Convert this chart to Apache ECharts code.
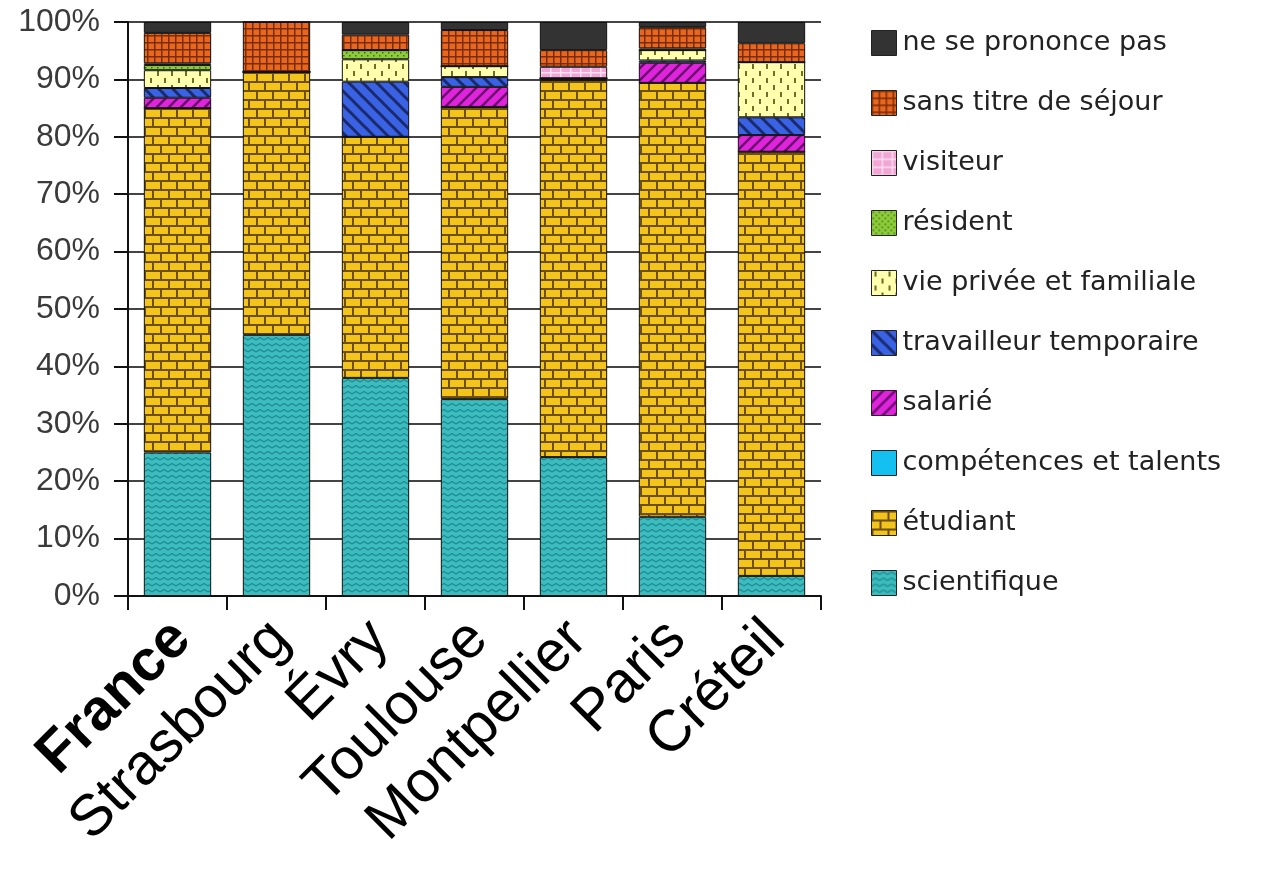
<!DOCTYPE html>
<html>
<head>
<meta charset="utf-8">
<script src="https://cdn.jsdelivr.net/npm/echarts@6/dist/echarts.min.js"></script>
<style>
html,body{margin:0;padding:0;background:#fff;}
#c{width:1282px;height:869px;}
</style>
</head>
<body>
<div id="c"></div>
<script>
const categories = ['France','Strasbourg','Évry','Toulouse','Montpellier','Paris','Créteil'];
const yTicks = [0,10,20,30,40,50,60,70,80,90,100];

const scientifique = [25, 45.5, 38, 34.3, 24.2, 13.8, 3.5];
const etudiant     = [60, 45.8, 42, 50.9, 65.7, 75.6, 73.9];
const competences  = [0, 0, 0, 0, 0.3, 0, 0];
const salarie      = [1.8, 0, 0, 3.5, 0, 3.5, 2.9];
const travailleur  = [1.7, 0, 9.6, 1.7, 0, 0.4, 3.1];
const viePrivee    = [3.1, 0, 3.9, 1.9, 0, 1.8, 9.6];
const resident     = [0.9, 0, 1.6, 0, 0, 0, 0];
const visiteur     = [0.3, 0, 0, 0, 2, 0.3, 0];
const sansTitre    = [5.3, 8.7, 2.7, 6.3, 2.9, 3.7, 3.3];
const nsp          = [1.9, 0, 2.2, 1.4, 4.9, 0.9, 3.7];

const seriesNames = ['scientifique','étudiant','compétences et talents','salarié','travailleur temporaire','vie privée et familiale','résident','visiteur','sans titre de séjour','ne se prononce pas'];
const seriesData = [scientifique, etudiant, competences, salarie, travailleur, viePrivee, resident, visiteur, sansTitre, nsp];

function pat(w, h, bg, draw) {
  const c = document.createElement('canvas');
  c.width = w; c.height = h;
  const g = c.getContext('2d');
  g.fillStyle = bg; g.fillRect(0, 0, w, h);
  if (draw) draw(g);
  return { image: c, repeat: 'repeat' };
}
function line(g, pts, col, lw) {
  g.strokeStyle = col; g.lineWidth = lw; g.beginPath();
  g.moveTo(pts[0][0], pts[0][1]);
  for (let i = 1; i < pts.length; i++) g.lineTo(pts[i][0], pts[i][1]);
  g.stroke();
}
const fills = [
  pat(8, 6, '#3cbcbc', g => { line(g, [[0,4],[4,1.5],[8,4]], '#1f8a96', 1.3); }),
  pat(32, 18, '#f2c41c', g => {
    g.fillStyle = '#6e4f0c';
    g.fillRect(0, 0, 32, 2); g.fillRect(0, 9, 32, 2);
    g.fillRect(0, 0, 2, 9); g.fillRect(16, 0, 2, 9);
    g.fillRect(8, 9, 2, 9); g.fillRect(24, 9, 2, 9);
  }),
  pat(4, 4, '#14c0f0'),
  pat(12, 12, '#e024dc', g => {
    line(g, [[-2,14],[14,-2]], '#6a0a70', 2.5);
    line(g, [[-2,2],[2,-2]], '#6a0a70', 2.5);
    line(g, [[10,14],[14,10]], '#6a0a70', 2.5);
  }),
  pat(14, 14, '#3a62e4', g => {
    line(g, [[-2,-2],[16,16]], '#1a2a6a', 3);
    line(g, [[-2,12],[2,16]], '#1a2a6a', 3);
    line(g, [[12,-2],[16,2]], '#1a2a6a', 3);
  }),
  pat(14, 14, '#ffffae', g => {
    g.fillStyle = '#6e6e2a';
    g.fillRect(3, 1, 2, 5); g.fillRect(10, 8, 2, 5);
  }),
  pat(6, 6, '#8ccc3a', g => { g.fillStyle = '#3f6a10'; g.fillRect(1, 1, 1.5, 1.5); g.fillRect(4, 4, 1.5, 1.5); }),
  pat(10, 8, '#f2a6d6', g => { g.fillStyle = '#fbe0f0'; g.fillRect(0, 0, 10, 1.5); g.fillRect(0, 0, 1.5, 8); }),
  pat(7, 7, '#e8661e', g => { g.fillStyle = '#7a2c06'; g.fillRect(0, 0, 7, 1.5); g.fillRect(0, 0, 1.5, 7); }),
  pat(4, 4, '#333333')
];

const chart = echarts.init(document.getElementById('c'), null, { renderer: 'canvas' });
const series = seriesNames.map((name, i) => ({
  name: name,
  type: 'bar',
  stack: 'total',
  barWidth: '68%',
  data: seriesData[i],
  itemStyle: { color: fills[i], borderColor: '#111', borderWidth: 1 },
  emphasis: { disabled: true }
}));

chart.setOption({
  animation: false,
  backgroundColor: '#ffffff',
  grid: { left: 128, right: 461, top: 22, bottom: 273, containLabel: false },
  legend: {
    orient: 'vertical',
    left: 866,
    top: 23,
    itemWidth: 25,
    itemHeight: 25,
    itemGap: 30,
    icon: 'rect',
    selectedMode: false,
    data: seriesNames.slice().reverse(),
    itemStyle: { borderColor: '#222', borderWidth: 1 },
    textStyle: { fontFamily: 'DejaVu Sans', fontSize: 27, color: '#222', lineHeight: 30, padding: [0,0,0,1] }
  },
  xAxis: {
    type: 'category',
    data: categories,
    axisLine: { lineStyle: { color: '#111', width: 2 } },
    axisTick: { show: true, length: 14, lineStyle: { color: '#111', width: 2 } },
    axisLabel: {
      interval: 0,
      rotate: 45,
      margin: 30,
      padding: [12, 0, 0, 0],
      fontFamily: 'Liberation Sans, Arial',
      fontSize: 58,
      color: '#000',
      formatter: function (v) { return v === 'France' ? '{b|' + v + '}' : v; },
      rich: { b: { fontWeight: 'bold', fontSize: 58, fontFamily: 'Liberation Sans, Arial', color: '#000' } }
    },
    splitLine: { show: false }
  },
  yAxis: {
    type: 'value',
    min: 0,
    max: 100,
    interval: 10,
    axisLine: { show: true, lineStyle: { color: '#111', width: 2 } },
    axisTick: { show: true, length: 14, lineStyle: { color: '#111', width: 2 } },
    axisLabel: {
      margin: 28,
      fontFamily: 'Liberation Sans, Arial',
      fontSize: 32,
      color: '#3a3a3a',
      formatter: function (v) { return yTicks.indexOf(v) >= 0 ? v + '%' : ''; }
    },
    splitLine: { show: true, lineStyle: { color: '#444', width: 2 } }
  },
  series: series
});
</script>
</body>
</html>
